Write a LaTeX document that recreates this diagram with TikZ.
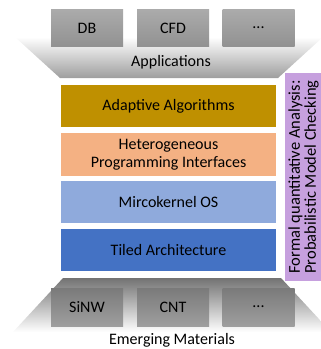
\documentclass[tikz,border=0pt]{standalone}
\usepackage{fontspec}
\setmainfont{Carlito}
\definecolor{algo}{RGB}{191,144,0}
\definecolor{prog}{RGB}{244,177,131}
\definecolor{kern}{RGB}{143,170,220}
\definecolor{tile}{RGB}{68,114,196}
\definecolor{formal}{RGB}{198,160,222}
\tikzset{
  appbox/.style={rectangle, minimum width=72pt, minimum height=37pt, top color=black!33, bottom color=black!43, font=\fontsize{16}{19}\selectfont},
  matbox/.style={rectangle, minimum width=72pt, minimum height=38pt, top color=black!52, bottom color=black!38, font=\fontsize{16}{19}\selectfont},
  layer/.style={rectangle, minimum width=215pt, minimum height=42pt, align=center, font=\fontsize{16}{18}\selectfont},
}
\begin{document}
\begin{tikzpicture}[x=1pt, y=-1pt]
\useasboundingbox (0,0) rectangle (321,349);
% applications
\shade[top color=white, bottom color=black!38] (15,37) -- (323,37) -- (278,78) -- (60,78) -- cycle;
\node[appbox] (db) at (87,28){DB};
\node[appbox] (cfd) at (173,28){CFD};
\node[appbox] (app3) at (258.5,28){...};
\node[font=\fontsize{16}{19}\selectfont] (apps) at (171,62){Applications};
% layers
\node[layer, fill=algo] (algo) at (168.5,106){Adaptive Algorithms};
\node[layer, fill=prog, minimum height=43pt] (prog) at (168.5,154.5){Heterogeneous\\Programming Interfaces};
\node[layer, fill=kern] (kern) at (168.5,202){Mircokernel OS};
\node[layer, fill=tile] (tile) at (168.5,250){Tiled Architecture};
% formal analysis
\node[rectangle, fill=formal, minimum width=208pt, minimum height=36pt, rotate=90, align=center, font=\fontsize{16.5}{16}\selectfont] (formal) at (303.5,177){Formal quantitative Analysis:\\Probabilistic Model Checking};
% materials
\shade[top color=black!55, bottom color=white] (63,278) -- (281,278) -- (331,332) -- (13,332) -- cycle;
\node[matbox] (sinw) at (87,307){SiNW};
\node[matbox] (cnt) at (173,307){CNT};
\node[matbox] (mat3) at (258.5,307){...};
\node[font=\fontsize{16}{19}\selectfont] (mats) at (172,340){Emerging Materials};
\end{tikzpicture}
\end{document}
